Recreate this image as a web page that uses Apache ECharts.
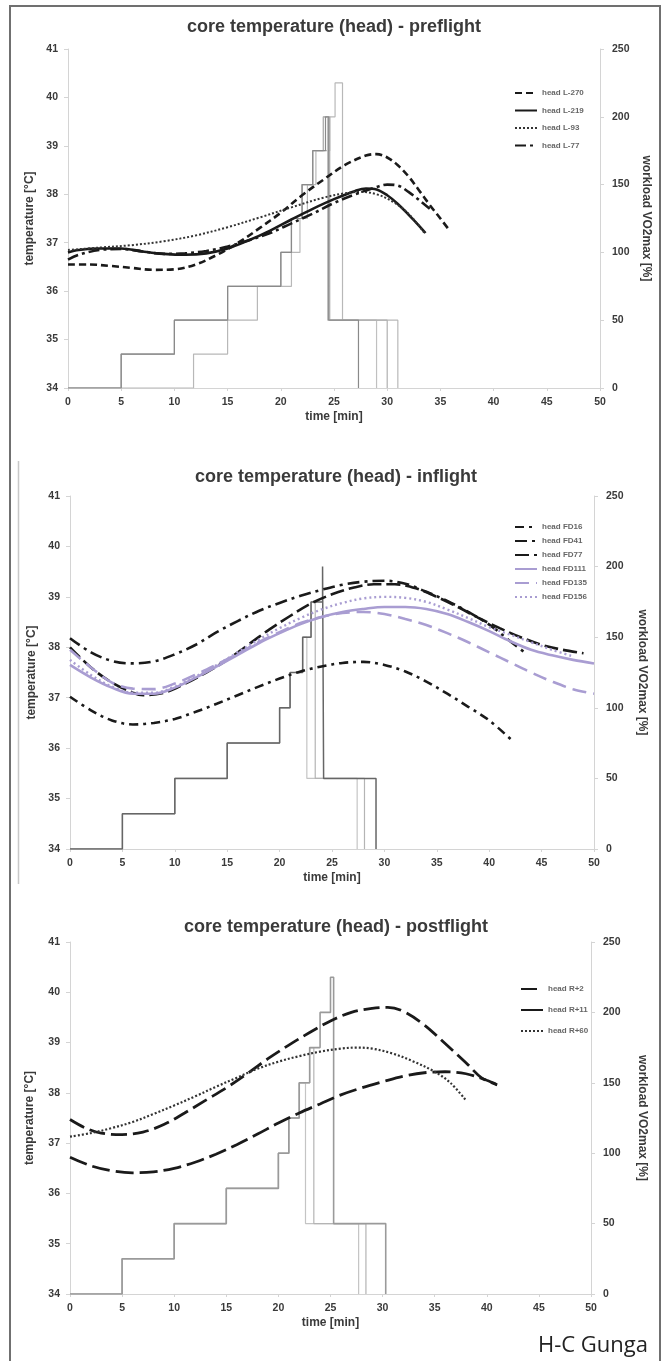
<!DOCTYPE html>
<html>
<head>
<meta charset="utf-8">
<script src="https://cdn.jsdelivr.net/npm/echarts@6/dist/echarts.min.js"></script>
<style>
html,body{margin:0;padding:0;background:#fff;}
#c{width:665px;height:1361px;}
</style>
</head>
<body>
<div id="c"></div>
<script>
// ---------- DATA ----------
const titles = ['core temperature (head) - preflight', 'core temperature (head) - inflight', 'core temperature (head) - postflight'];
const xTicks = {min: 0, max: 50, interval: 5};
const tempTicks = {min: 34, max: 41, interval: 1};
const loadTicks = {min: 0, max: 250, interval: 50};

// Panel 1 (preflight) temperature curves [time, °C]
const L270 = [[0,36.55],[2,36.55],[4,36.52],[6,36.48],[8,36.44],[10,36.45],[12,36.55],[14,36.75],[16,37.0],[18,37.3],[20,37.62],[22,37.98],[24,38.3],[26,38.6],[28,38.8],[29,38.83],[30,38.76],[31,38.6],[32,38.37],[33,38.08],[34,37.78],[35,37.5],[35.8,37.27]];
const L219 = [[0,36.8],[1,36.85],[3,36.88],[5,36.88],[7,36.82],[9,36.77],[11,36.75],[13,36.78],[15,36.88],[17,37.05],[19,37.25],[21,37.48],[23,37.7],[25,37.9],[27,38.07],[28,38.12],[29,38.1],[30,37.98],[31,37.8],[32,37.58],[33,37.35],[33.6,37.2]];
const L93 = [[0,36.85],[3,36.9],[6,36.95],[9,37.03],[12,37.15],[15,37.32],[18,37.52],[21,37.73],[24,37.93],[26,38.02],[27.5,38.05],[29,38.0],[30.5,37.85],[32,37.6],[33.5,37.2]];
const L77 = [[0,36.65],[1,36.75],[3,36.85],[5,36.87],[7,36.82],[9,36.77],[11,36.78],[13,36.83],[15,36.92],[17,37.05],[19,37.2],[21,37.4],[23,37.6],[25,37.82],[27,38.0],[29,38.15],[30,38.2],[31,38.18],[32,38.05],[33,37.88],[34,37.7]];

// Panel 2 (inflight)
const FD16 = [[0,37.02],[2,36.75],[4,36.55],[6,36.47],[8,36.5],[10,36.58],[12,36.72],[14,36.88],[16,37.05],[18,37.22],[20,37.38],[22,37.52],[24,37.62],[26,37.69],[28,37.71],[30,37.65],[32,37.52],[34,37.32],[36,37.08],[38,36.82],[40,36.55],[42.3,36.13]];
const FD41 = [[0,38.18],[2,37.9],[4,37.73],[6,37.68],[8,37.72],[10,37.86],[12,38.05],[14,38.3],[16,38.52],[18,38.72],[20,38.88],[22,39.02],[24,39.14],[26,39.24],[28,39.3],[30,39.32],[32,39.26],[34,39.1],[36,38.92],[38,38.7],[40,38.45],[42,38.12],[43.5,37.88]];
const FD77 = [[0,38.0],[2,37.6],[4,37.3],[6,37.1],[7,37.05],[9,37.1],[11,37.28],[13,37.5],[15,37.75],[17,38.05],[19,38.35],[21,38.62],[23,38.87],[25,39.05],[27,39.18],[29,39.25],[31,39.25],[33,39.17],[35,39.0],[37,38.8],[39,38.58],[41,38.38],[43,38.2],[45,38.05],[47,37.95],[49,37.88]];
const FD111 = [[0,37.65],[2,37.4],[4,37.2],[6,37.08],[8,37.08],[10,37.2],[12,37.4],[14,37.62],[16,37.85],[18,38.08],[20,38.28],[22,38.46],[24,38.6],[26,38.7],[28,38.76],[30,38.8],[32,38.8],[34,38.76],[36,38.66],[38,38.5],[40,38.32],[42,38.12],[44,37.95],[46,37.84],[48,37.75],[50,37.68]];
const FD135 = [[0,37.95],[2,37.6],[4,37.3],[6,37.18],[8,37.17],[10,37.28],[12,37.46],[14,37.66],[16,37.87],[18,38.1],[20,38.3],[22,38.48],[24,38.6],[26,38.68],[28,38.7],[30,38.66],[32,38.56],[34,38.44],[36,38.28],[38,38.1],[40,37.9],[42,37.7],[44,37.5],[46,37.32],[48,37.17],[50,37.08]];
const FD156 = [[0,37.75],[2,37.45],[4,37.22],[6,37.1],[8,37.1],[10,37.22],[12,37.42],[14,37.65],[16,37.9],[18,38.15],[20,38.38],[22,38.58],[24,38.75],[26,38.88],[28,38.97],[30,39.0],[32,38.98],[34,38.9],[36,38.75],[38,38.58],[40,38.4],[42,38.25],[44,38.1],[46,37.95],[48,37.82]];

// Panel 3 (postflight)
const R2 = [[0,37.47],[1.5,37.3],[3,37.2],[5,37.17],[7,37.22],[9,37.37],[11,37.6],[13,37.85],[15,38.1],[17,38.38],[19,38.68],[21,38.95],[23,39.2],[25,39.43],[27,39.6],[29,39.68],[30.5,39.7],[32,39.62],[34,39.35],[36,38.98],[38,38.6],[39.5,38.3],[41,38.16]];
const R11 = [[0,36.72],[2,36.55],[4,36.45],[6,36.41],[8,36.43],[10,36.5],[12,36.62],[14,36.78],[16,36.97],[18,37.18],[20,37.4],[22,37.6],[24,37.78],[26,37.96],[28,38.1],[30,38.22],[32,38.33],[34,38.4],[36,38.42],[38,38.38],[40,38.25],[41,38.16]];
const R60 = [[0,37.13],[2,37.2],[4,37.3],[6,37.42],[8,37.58],[10,37.75],[12,37.93],[14,38.12],[16,38.3],[18,38.48],[20,38.62],[22,38.73],[24,38.82],[26,38.88],[27.5,38.9],[29,38.88],[31,38.78],[33,38.62],[35,38.42],[36.5,38.2],[38,37.85]];

// Workload steps: change times [min] and new level [% VO2max]
const P1_W1_t = [5,10,15,20,21,22,23,24.2,24.5,27.3], P1_W1_v = [25,50,75,100,125,150,175,200,50,0];
const P1_W2_t = [11.8,15,17.8,21,21.8,22.5,23.3,24.6,25.1,25.8,31], P1_W2_v = [25,50,75,100,125,150,175,200,225,50,0];
const P1_W3_t = [5,10,15,20,21,22,23,24,24.4,29], P1_W3_v = [25,50,75,100,125,150,175,200,50,0];
const P1_W4_t = [5,10,15,20,21,22,23,24,24.6,30], P1_W4_v = [25,50,75,100,125,150,175,200,50,0];

const P2_W1_t = [5,10,15,20,21,22.2,23,24.1,24.2,29.2], P2_W1_v = [25,50,75,100,125,150,175,200,50,0];
const P2_W2_t = [5,10,15,20,21,22.2,22.6,27.4], P2_W2_v = [25,50,75,100,125,150,50,0];
const P2_W3_t = [5,10,15,20,21,22.2,23,23.4,28.1], P2_W3_v = [25,50,75,100,125,150,175,50,0];

const P3_W1_t = [5,10,15,20,21,22,23,24,25,25.3,30.3], P3_W1_v = [25,50,75,100,125,150,175,200,225,50,0];
const P3_W2_t = [5,10,15,20,21,22,22.6,27.7], P3_W2_v = [25,50,75,100,125,150,50,0];
const P3_W3_t = [5,10,15,20,21,22,23,23.4,28.4], P3_W3_v = [25,50,75,100,125,150,175,50,0];

// ---------- BUILD ----------
function steps(ts, vs) {
  const pts = [[0, 0]];
  let cur = 0;
  for (let i = 0; i < ts.length; i++) {
    pts.push([ts[i], cur]);
    pts.push([ts[i], vs[i]]);
    cur = vs[i];
  }
  return pts;
}
const BLACK = '#1a1a1a', LAV = '#a99dd2';
const FONT = 'Liberation Sans';

function curve(name, data, p, ls) {
  return {type: 'line', name: name, xAxisIndex: p, yAxisIndex: 2 * p, data: data,
    smooth: 0.35, symbol: 'none', showSymbol: false, lineStyle: ls,
    itemStyle: {color: ls.color, opacity: 0}, z: 4, silent: true};
}
function load(data, p, color, w) {
  return {type: 'line', xAxisIndex: p, yAxisIndex: 2 * p + 1, data: data, symbol: 'none', showSymbol: false,
    lineStyle: {color: color, width: w}, z: 2, silent: true};
}

const grids = [
  {left: 68, width: 532, top: 49, height: 339},
  {left: 70, width: 524, top: 496, height: 353},
  {left: 70, width: 521, top: 942, height: 352}
];
const leftGap = [28, 32, 34];
const rightGap = [37, 42, 45];
const axisCol = '#d4d4d4';
const lab = {fontSize: 10.5, fontWeight: 'bold', color: '#3a3a3a', fontFamily: FONT};
const nameSt = {fontSize: 12, fontWeight: 'bold', color: '#3a3a3a', fontFamily: FONT};
const xAxes = grids.map((g, i) => ({
  type: 'value', gridIndex: i, min: xTicks.min, max: xTicks.max, interval: xTicks.interval,
  axisLine: {show: true, lineStyle: {color: axisCol, width: 1}},
  axisTick: {show: true, length: 3, lineStyle: {color: axisCol}},
  splitLine: {show: false},
  axisLabel: Object.assign({margin: 9}, lab),
  name: 'time [min]', nameLocation: 'middle', nameGap: 23, nameTextStyle: nameSt
}));
const yAxes = [];
grids.forEach((g, i) => {
  yAxes.push({type: 'value', gridIndex: i, position: 'left', min: tempTicks.min, max: tempTicks.max, interval: tempTicks.interval,
    axisLine: {show: true, lineStyle: {color: axisCol}}, axisTick: {show: true, length: 4, lineStyle: {color: axisCol}},
    splitLine: {show: false}, axisLabel: Object.assign({margin: 10}, lab),
    name: 'temperature [°C]', nameLocation: 'middle', nameGap: leftGap[i], nameTextStyle: nameSt});
  yAxes.push({type: 'value', gridIndex: i, position: 'right', min: loadTicks.min, max: loadTicks.max, interval: loadTicks.interval,
    axisLine: {show: true, lineStyle: {color: axisCol}}, axisTick: {show: true, length: 4, lineStyle: {color: axisCol}},
    splitLine: {show: false}, axisLabel: Object.assign({margin: 12}, lab),
    name: 'workload VO2max [%]', nameLocation: 'middle', nameGap: rightGap[i], nameRotate: -90, nameTextStyle: nameSt});
});

const series = [
  load(steps(P1_W2_t, P1_W2_v), 0, '#b8b8b8', 1.2),
  load(steps(P1_W3_t, P1_W3_v), 0, '#c0c0c0', 1.2),
  load(steps(P1_W4_t, P1_W4_v), 0, '#b0b0b0', 1.2),
  load(steps(P1_W1_t, P1_W1_v), 0, '#8a8a8a', 1.2),
  load(steps(P2_W2_t, P2_W2_v), 1, '#c4c4c4', 1.2),
  load(steps(P2_W3_t, P2_W3_v), 1, '#b4b4b4', 1.2),
  load(steps(P2_W1_t, P2_W1_v), 1, '#666666', 1.5),
  load(steps(P3_W2_t, P3_W2_v), 2, '#c4c4c4', 1.2),
  load(steps(P3_W3_t, P3_W3_v), 2, '#b4b4b4', 1.2),
  load(steps(P3_W1_t, P3_W1_v), 2, '#9a9a9a', 1.6),

  curve('head L-270', L270, 0, {color: BLACK, width: 2.6, type: [7, 4]}),
  curve('head L-219', L219, 0, {color: BLACK, width: 2.6, type: 'solid'}),
  curve('head L-93', L93, 0, {color: '#333333', width: 2, type: [2, 2]}),
  curve('head L-77', L77, 0, {color: BLACK, width: 2.6, type: [11, 4, 3, 4]}),

  curve('head FD16', FD16, 1, {color: BLACK, width: 2.6, type: [9, 5, 3, 5]}),
  curve('head FD41', FD41, 1, {color: BLACK, width: 2.6, type: [12, 5, 3, 5]}),
  curve('head FD77', FD77, 1, {color: BLACK, width: 2.6, type: [14, 5]}),
  curve('head FD111', FD111, 1, {color: LAV, width: 2.6, type: 'solid'}),
  curve('head FD135', FD135, 1, {color: LAV, width: 2.6, type: [14, 7]}),
  curve('head FD156', FD156, 1, {color: LAV, width: 2.4, type: [2, 3]}),

  curve('head R+2', R2, 2, {color: BLACK, width: 2.8, type: [16, 6]}),
  curve('head R+11', R11, 2, {color: BLACK, width: 2.8, type: [18, 6]}),
  curve('head R+60', R60, 2, {color: '#333333', width: 2.2, type: [2, 2]})
];

const legText = {fontSize: 8, color: '#666', fontFamily: FONT, fontWeight: 'bold'};
function legend(names, left, top, gap) {
  return {orient: 'vertical', left: left, top: top, itemWidth: 22, itemHeight: 8, itemGap: gap,
    selectedMode: false, textStyle: legText, data: names, padding: 0,
    itemStyle: {opacity: 0}};
}

const titleFont = 'bold 18px "' + FONT + '"';
const graphic = [
  {type: 'rect', shape: {x: 10, y: 6, width: 650, height: 1362}, style: {fill: 'none', stroke: '#707070', lineWidth: 2}, silent: true},
  {type: 'line', shape: {x1: 18.5, y1: 461, x2: 18.5, y2: 884}, style: {stroke: '#c8c8c8', lineWidth: 1.5}, silent: true},
  {type: 'text', x: 334, y: 27, style: {text: titles[0], fill: '#3a3a3a', font: titleFont, textAlign: 'center', textVerticalAlign: 'middle'}},
  {type: 'text', x: 336, y: 477, style: {text: titles[1], fill: '#3a3a3a', font: titleFont, textAlign: 'center', textVerticalAlign: 'middle'}},
  {type: 'text', x: 336, y: 927, style: {text: titles[2], fill: '#3a3a3a', font: titleFont, textAlign: 'center', textVerticalAlign: 'middle'}},
  {type: 'text', x: 648, y: 1346, style: {text: 'H-C Gunga', fill: '#222', font: '22px "Open Sans"', textAlign: 'right', textVerticalAlign: 'middle'}}
];

const chart = echarts.init(document.getElementById('c'), null, {renderer: 'canvas'});
chart.setOption({
  animation: false,
  backgroundColor: '#fff',
  grid: grids,
  xAxis: xAxes,
  yAxis: yAxes,
  legend: [
    legend(['head L-270', 'head L-219', 'head L-93', 'head L-77'], 514, 89, 9.5),
    legend(['head FD16', 'head FD41', 'head FD77', 'head FD111', 'head FD135', 'head FD156'], 514, 523, 6),
    legend([{name: 'head R+2'}, {name: 'head R+11', lineStyle: {type: 'solid'}}, {name: 'head R+60'}], 520, 985, 13)
  ],
  series: series,
  graphic: graphic
});
</script>
</body>
</html>
